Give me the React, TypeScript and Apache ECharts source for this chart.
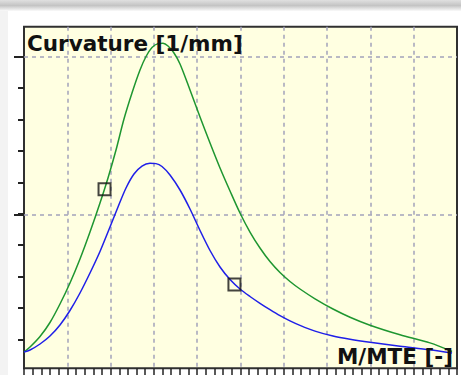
import React, { useEffect, useRef } from 'react';
import * as echarts from 'echarts';

// M/MTE [-] values and curvature [1/mm] values
const blueX = [0, 0.139, 0.37, 0.6, 0.831, 1.062, 1.293, 1.524, 1.755, 1.986, 2.171, 2.356, 2.54, 2.725, 2.91, 3.049, 3.187, 3.372, 3.603, 3.834, 4.065, 4.296, 4.527, 4.758, 4.988, 5.219, 5.45, 5.681, 5.912, 6.143, 6.374, 6.721, 7.136, 7.529, 7.991, 8.684, 9.376, 9.885];
const blueY = [0.00517, 0.00581, 0.00771, 0.01025, 0.01374, 0.01834, 0.02389, 0.03023, 0.03706, 0.04483, 0.05117, 0.0572, 0.06164, 0.06418, 0.06504, 0.06494, 0.06402, 0.06133, 0.05657, 0.05054, 0.04372, 0.03737, 0.03214, 0.02817, 0.02516, 0.02278, 0.02062, 0.01859, 0.01669, 0.01504, 0.01361, 0.0118, 0.01022, 0.0092, 0.00825, 0.00701, 0.00587, 0.00482];

const greenX = [0, 0.139, 0.37, 0.6, 0.831, 1.062, 1.293, 1.524, 1.755, 1.94, 2.125, 2.309, 2.494, 2.679, 2.818, 2.956, 3.095, 3.21, 3.326, 3.464, 3.603, 3.834, 4.065, 4.296, 4.527, 4.758, 4.988, 5.219, 5.45, 5.681, 5.912, 6.143, 6.374, 6.721, 7.136, 7.529, 7.991, 8.684, 9.376, 9.885];
const greenY = [0.00517, 0.00676, 0.01009, 0.01453, 0.0204, 0.02706, 0.03468, 0.04324, 0.05244, 0.06038, 0.06926, 0.07909, 0.08734, 0.09464, 0.09892, 0.10178, 0.10301, 0.10311, 0.10225, 0.10003, 0.09654, 0.08829, 0.07973, 0.07148, 0.06355, 0.05625, 0.04927, 0.04324, 0.03817, 0.03388, 0.03039, 0.02754, 0.02516, 0.02205, 0.01881, 0.01621, 0.01367, 0.01063, 0.00806, 0.00533];

const markerX = [1.86, 4.86];
const markerY = [0.0568, 0.0266];

const yTitle = 'Curvature [1/mm]';
const xTitle = 'M/MTE [-]';

const xMin = 0;
const xMax = 10;
const yMin = 0;
const yMax = 0.10838;

export default function App() {
  const ref = useRef<HTMLDivElement>(null);
  useEffect(() => {
    const chart = echarts.init(ref.current!, null, { renderer: 'svg' });
    const dash = { color: '#a3a3bb', width: 1.5, type: [4, 4] as any };
    const tickColor = '#222222';
    const font = {
      fontFamily: 'DejaVu Sans',
      fontWeight: 'bold' as const,
      fontSize: 21.5,
      color: '#111111',
    };
    chart.setOption({
      animation: false,
      backgroundColor: '#ffffff',
      graphic: [
        {
          type: 'rect',
          shape: { x: 0, y: 0, width: 461, height: 11 },
          style: {
            fill: {
              type: 'linear', x: 0, y: 0, x2: 0, y2: 1,
              colorStops: [
                { offset: 0, color: '#e0e0e0' },
                { offset: 0.5, color: '#c4c4c4' },
                { offset: 1, color: '#fafafa' },
              ],
            },
          },
        },
        {
          type: 'rect',
          shape: { x: 0, y: 11, width: 8, height: 364 },
          style: { fill: '#f3f3f3' },
        },
      ],
      title: [
        { text: yTitle, left: 27, top: 32, padding: 0, textStyle: font },
        { text: xTitle, right: 8, top: 345, padding: 0, textStyle: font },
      ],
      grid: [
        {
          left: 24, top: 26.7, width: 433, height: 341.6,
          show: true, backgroundColor: '#ffffe1', borderColor: '#303030', borderWidth: 2,
        },
        { left: 24, top: 56.7, width: 433, height: 282.6 },
        { left: 24, top: 56.7, width: 433, height: 157.6 },
      ],
      xAxis: [
        {
          gridIndex: 0, type: 'value', min: xMin, max: xMax, interval: 1,
          axisLine: { show: false },
          axisTick: { show: true, length: 8, lineStyle: { color: tickColor, width: 1.5 } },
          minorTick: { show: true, splitNumber: 5, length: 8, lineStyle: { color: tickColor, width: 1.5 } },
          axisLabel: { show: false },
          splitLine: { show: true, showMinLine: false, showMaxLine: false, lineStyle: dash },
        },
        { gridIndex: 1, type: 'value', min: 0, max: 1, show: false },
        { gridIndex: 2, type: 'value', min: 0, max: 1, show: false },
      ],
      yAxis: [
        {
          gridIndex: 0, type: 'value', min: yMin, max: yMax,
          axisLine: { show: false }, axisTick: { show: false },
          axisLabel: { show: false }, splitLine: { show: false },
        },
        {
          gridIndex: 1, type: 'value', min: 0, max: 9, interval: 1,
          axisLine: { show: false },
          axisTick: { show: true, length: 6, lineStyle: { color: tickColor, width: 2 } },
          axisLabel: { show: false }, splitLine: { show: false },
        },
        {
          gridIndex: 2, type: 'value', min: 0, max: 1, interval: 1,
          axisLine: { show: false },
          axisTick: { show: true, length: 10, lineStyle: { color: tickColor, width: 2 } },
          axisLabel: { show: false },
          splitLine: { show: true, lineStyle: dash },
        },
      ],
      series: [
        {
          type: 'line', xAxisIndex: 0, yAxisIndex: 0,
          data: greenX.map((x, i) => [x, greenY[i]]),
          showSymbol: false, smooth: 0.3,
          lineStyle: { color: '#1e9630', width: 1.5 },
          z: 3,
        },
        {
          type: 'line', xAxisIndex: 0, yAxisIndex: 0,
          data: blueX.map((x, i) => [x, blueY[i]]),
          showSymbol: false, smooth: 0.3,
          lineStyle: { color: '#1f1fe8', width: 1.5 },
          z: 4,
        },
        {
          type: 'scatter', xAxisIndex: 0, yAxisIndex: 0,
          data: markerX.map((x, i) => [x, markerY[i]]),
          symbol: 'rect', symbolSize: 12,
          itemStyle: { color: 'rgba(0,0,0,0)', borderColor: '#151515', borderWidth: 2 },
          z: 5,
        },
      ],
    });
    return () => chart.dispose();
  }, []);
  return (
    <div
      ref={ref}
      style={{ position: 'fixed', left: 0, top: 0, width: 461, height: 375 }}
    />
  );
}
